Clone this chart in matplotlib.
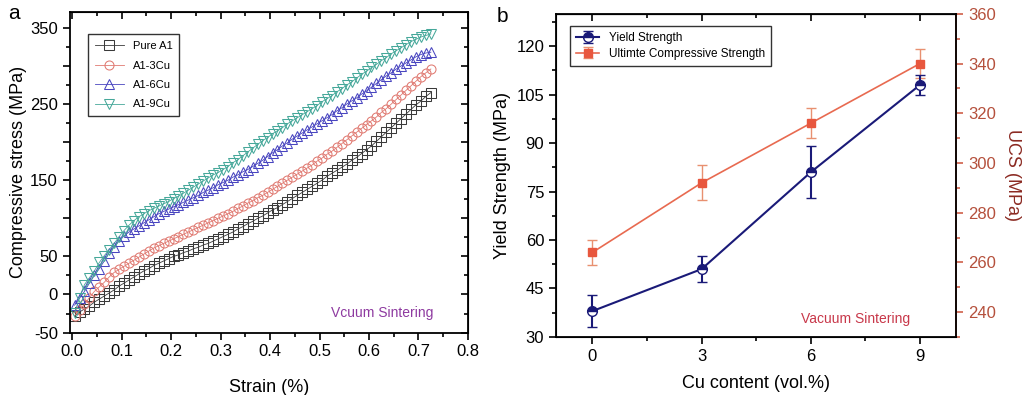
import matplotlib
matplotlib.use("Agg")
import matplotlib.pyplot as plt
from matplotlib.ticker import MultipleLocator

plt.rcParams["font.family"] = ["Liberation Sans", "DejaVu Sans"]

# ---- panel a: compressive stress-strain curves ----
strain = [0.005, 0.015, 0.025, 0.035, 0.045, 0.055, 0.065, 0.075, 0.085, 0.095,
          0.105, 0.115, 0.125, 0.135, 0.145, 0.155, 0.165, 0.175, 0.185, 0.195,
          0.205, 0.215, 0.225, 0.235, 0.245, 0.255, 0.265, 0.275, 0.285, 0.295,
          0.305, 0.315, 0.325, 0.335, 0.345, 0.355, 0.365, 0.375, 0.385, 0.395,
          0.405, 0.415, 0.425, 0.435, 0.445, 0.455, 0.465, 0.475, 0.485, 0.495,
          0.505, 0.515, 0.525, 0.535, 0.545, 0.555, 0.565, 0.575, 0.585, 0.595,
          0.605, 0.615, 0.625, 0.635, 0.645, 0.655, 0.665, 0.675, 0.685, 0.695,
          0.705, 0.715, 0.725]

pure_al = [-28, -23, -19, -15, -10, -6, -2, 2, 6, 11,
           15, 19, 23, 27, 31, 34, 38, 41, 44, 47,
           50, 52, 55, 57, 60, 62, 65, 67, 70, 73,
           76, 79, 82, 86, 89, 93, 96, 100, 103, 107,
           111, 114, 118, 122, 126, 130, 134, 138, 142, 146,
           150, 155, 159, 163, 167, 171, 176, 180, 185, 190,
           195, 201, 207, 213, 219, 225, 231, 237, 243, 249,
           254, 260, 265]

al_3cu = [-28, -20, -13, -4, 4, 10, 16, 23, 29, 33,
          37, 41, 45, 49, 53, 57, 61, 64, 67, 70,
          73, 76, 79, 82, 85, 88, 91, 94, 97, 100,
          103, 106, 109, 113, 116, 120, 123, 127, 130, 134,
          138, 142, 146, 150, 154, 158, 162, 166, 170, 175,
          179, 184, 188, 193, 198, 203, 208, 213, 218, 223,
          228, 233, 239, 244, 250, 256, 262, 268, 274, 280,
          286, 291, 296]

al_6cu = [-14, -5, 4, 15, 25, 34, 44, 55, 63, 70,
          77, 82, 86, 90, 94, 98, 102, 106, 109, 112,
          115, 118, 121, 124, 127, 130, 134, 137, 140, 144,
          147, 150, 154, 157, 161, 164, 168, 172, 176, 181,
          186, 190, 195, 199, 204, 208, 212, 216, 220, 224,
          228, 232, 236, 241, 245, 250, 254, 258, 263, 267,
          272, 277, 282, 287, 291, 296, 300, 304, 308, 312,
          315, 317, 318]

al_9cu = [-24, -4, 13, 22, 31, 42, 51, 59, 67, 76,
          84, 91, 97, 102, 106, 110, 113, 116, 119, 122,
          126, 129, 133, 137, 141, 145, 149, 153, 157, 160,
          164, 168, 173, 177, 182, 187, 192, 197, 202, 206,
          211, 215, 219, 224, 228, 232, 236, 240, 244, 248,
          253, 257, 261, 266, 270, 275, 279, 284, 289, 293,
          298, 302, 307, 311, 316, 320, 324, 328, 332, 335,
          338, 340, 342]

curve_labels = ["Pure A1", "A1-3Cu", "A1-6Cu", "A1-9Cu"]

# ---- panel b: strength vs Cu content ----
cu_content = [0, 3, 6, 9]
yield_strength = [38, 51, 81, 108]
yield_err = [5, 4, 8, 3]
ucs = [264, 292, 316, 340]
ucs_err = [5, 7, 6, 6]

fig = plt.figure(figsize=(10.24, 3.95), dpi=100)


def style_spines(a):
    for sp in a.spines.values():
        sp.set_linewidth(1.3)


# panel a
ax = fig.add_axes([0.068, 0.158, 0.389, 0.812])
styles = [("#3a3a3a", "s"), ("#e07a72", "o"), ("#4a46c0", "^"), ("#46a89a", "v")]
for ys, lab, (c, m) in zip([pure_al, al_3cu, al_6cu, al_9cu], curve_labels, styles):
    ax.plot(strain, ys, color=c, lw=0.6, marker=m, ms=6.5, mfc="none",
            mec=c, mew=0.75, label=lab)
ax.set_xlim(-0.005, 0.8)
ax.set_ylim(-50, 371)
xt = [0.0, 0.1, 0.2, 0.3, 0.4, 0.5, 0.6, 0.7, 0.8]
ax.set_xticks(xt)
ax.set_xticklabels(["0.0", "0.1", "0.2", "0.3", "0.4", "0.5", "0.6", "0.7", "0.8"])
ax.xaxis.set_minor_locator(MultipleLocator(0.05))
yt = [-50, 0, 50, 100, 150, 200, 250, 300, 350]
ax.set_yticks(yt)
ax.set_yticklabels(["-50", "0", "50", "", "150", "", "250", "", "350"])
ax.yaxis.set_minor_locator(MultipleLocator(25))
ax.tick_params(which="both", direction="out", labelsize=12, width=1.2)
ax.tick_params(which="major", length=5)
ax.tick_params(which="minor", length=3)
style_spines(ax)

# inward ticks on top and right, like the original
top = ax.secondary_xaxis("top")
top.set_xticks(xt)
top.xaxis.set_minor_locator(MultipleLocator(0.05))
top.tick_params(which="both", direction="in", labeltop=False, width=1.2)
top.tick_params(which="major", length=5)
top.tick_params(which="minor", length=3)
right = ax.secondary_yaxis("right")
right.set_yticks(yt)
right.yaxis.set_minor_locator(MultipleLocator(25))
right.tick_params(which="both", direction="in", labelright=False, width=1.2)
right.tick_params(which="major", length=5)
right.tick_params(which="minor", length=3)

ax.set_xlabel("Strain (%)", fontsize=13, labelpad=14)
ax.set_ylabel("Compressive stress (MPa)", fontsize=13, labelpad=2)
leg = ax.legend(loc="upper left", bbox_to_anchor=(0.033, 0.947), fontsize=8,
                frameon=True, fancybox=False, edgecolor="black",
                handlelength=2.6, borderpad=0.6, labelspacing=0.85)
leg.get_frame().set_linewidth(1.0)
ax.text(0.627, -24, "Vcuum Sintering", color="#8e3aa0", fontsize=10,
        ha="center", va="center")
fig.text(0.008, 0.965, "a", fontsize=15, va="center")

# panel b
bx = fig.add_axes([0.543, 0.147, 0.391, 0.818])
bx2 = bx.twinx()
bx.set_zorder(bx2.get_zorder() + 1)
bx.patch.set_visible(False)

navy = "#1a1a78"
red = "#e8573e"
bx.errorbar(cu_content, yield_strength, yerr=yield_err, color=navy, lw=1.5,
            marker="o", ms=7, fillstyle="top", mfc=navy, mfcalt="white",
            mec=navy, mew=1, capsize=3.5, elinewidth=1.5, capthick=1.5,
            label="Yield Strength")
bx2.errorbar(cu_content, ucs, yerr=ucs_err, color="#e86a50", lw=1.2,
             marker="s", ms=6, mfc=red, mec=red, ecolor="#e89070",
             capsize=3.5, elinewidth=1.0, capthick=1.0,
             label="Ultimte Compressive Strength")
bx.set_xlim(-1, 10)
bx.set_ylim(30, 130)
bx2.set_ylim(230, 360)
bx.set_xticks(cu_content)
bx.xaxis.set_minor_locator(MultipleLocator(1.5))
bx.set_yticks([30, 45, 60, 75, 90, 105, 120])
bx.yaxis.set_minor_locator(MultipleLocator(7.5))
bx2.set_yticks([240, 260, 280, 300, 320, 340, 360])
bx2.yaxis.set_minor_locator(MultipleLocator(10))
bx.tick_params(which="both", direction="out", labelsize=12, width=1.2)
bx.tick_params(which="major", length=5)
bx.tick_params(which="minor", length=3)
btop = bx.secondary_xaxis("top")
btop.set_xticks(cu_content)
btop.xaxis.set_minor_locator(MultipleLocator(1.5))
btop.tick_params(which="both", direction="in", labeltop=False, width=1.2)
btop.tick_params(which="major", length=5)
btop.tick_params(which="minor", length=3)
bx2.tick_params(which="both", direction="out", colors="#d0604a",
                labelcolor="#b5503c", labelsize=12, width=1.2)
bx2.tick_params(which="major", length=5)
bx2.tick_params(which="minor", length=3)
style_spines(bx)
bx2.spines["right"].set_color("#d0604a")
bx2.spines["right"].set_linewidth(1.3)
bx.set_xlabel("Cu content (vol.%)", fontsize=13, labelpad=8)
bx.set_ylabel("Yield Strength (MPa)", fontsize=13, labelpad=4)
bx2.set_ylabel("UCS (MPa)", fontsize=13, color="#8b2a22", rotation=270,
               labelpad=18)

h1, l1 = bx.get_legend_handles_labels()
h2, l2 = bx2.get_legend_handles_labels()
leg2 = bx.legend(h1 + h2, l1 + l2, loc="upper left", bbox_to_anchor=(0.02, 0.98),
                 fontsize=8.5, frameon=True, fancybox=False, edgecolor="black",
                 handlelength=2.0, borderpad=0.5, labelspacing=0.3)
leg2.get_frame().set_linewidth(1.0)
bx.text(7.24, 35.6, "Vacuum Sintering", color="#c8384a", fontsize=10,
        ha="center", va="center")
fig.text(0.485, 0.958, "b", fontsize=15, va="center")

fig.savefig("out.png", dpi=100)
